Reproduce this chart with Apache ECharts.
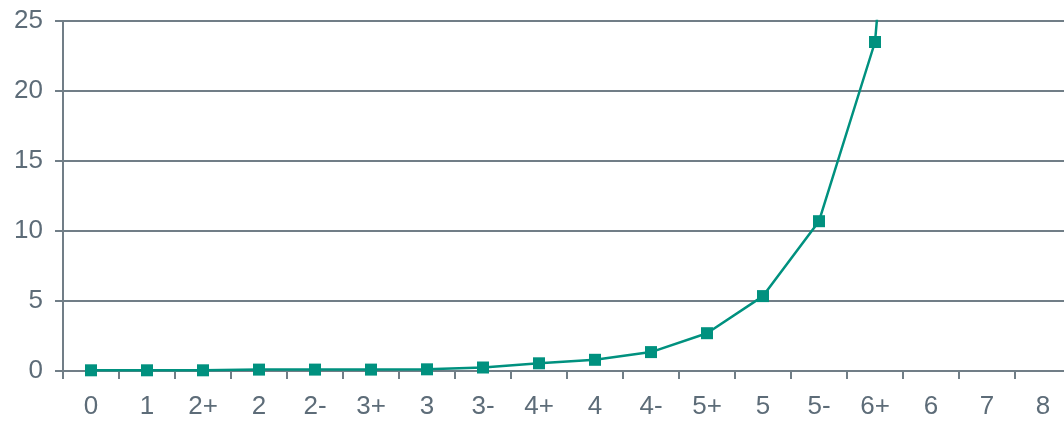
<!DOCTYPE html>
<html>
<head>
<meta charset="utf-8">
<script src="https://cdn.jsdelivr.net/npm/echarts@6/dist/echarts.min.js"></script>
<style>
  html, body { margin: 0; padding: 0; background: #fff; }
  #chart { width: 1064px; height: 422px; }
</style>
</head>
<body>
<div id="chart"></div>
<script>
// grades along the x axis
const grades = ['0', '1', '2+', '2', '2-', '3+', '3', '3-', '4+', '4', '4-', '5+', '5', '5-', '6+', '6', '7', '8'];
// values; "6" runs off the top, 7 and 8 are empty
const values = [0.05, 0.05, 0.05, 0.1, 0.1, 0.1, 0.12, 0.25, 0.55, 0.8, 1.35, 2.7, 5.35, 10.7, 23.5, 70, null, null];
const yTicks = [0, 5, 10, 15, 20, 25];

const C = {
  grid:  '#717e87',
  label: '#5d6c78',
  line:  '#00917f',
  font:  '"Liberation Sans", Arial, sans-serif'
};

const chart = echarts.init(document.getElementById('chart'), null, { renderer: 'canvas' });
chart.setOption({
  animation: false,
  backgroundColor: '#fff',
  // plot runs past the right edge: 18 slots of 56px from x=63
  grid: { left: 63, top: 21, width: 1008, bottom: 51, containLabel: false, outerBoundsMode: 'none' },
  xAxis: {
    type: 'category',
    data: grades,
    boundaryGap: true,
    axisLine: { lineStyle: { color: C.grid, width: 2 } },
    axisTick: { show: true, length: 8, lineStyle: { color: C.grid, width: 2 } },
    axisLabel: { color: C.label, fontFamily: C.font, fontSize: 26, margin: 23, interval: 0 },
    splitLine: { show: false }
  },
  yAxis: {
    type: 'value',
    min: yTicks[0],
    max: yTicks[yTicks.length - 1],
    interval: 5,
    axisLine: { show: true, lineStyle: { color: C.grid, width: 2 } },
    axisTick: { show: true, length: 8, lineStyle: { color: C.grid, width: 2 } },
    axisLabel: { color: C.label, fontFamily: C.font, fontSize: 26, margin: 20 },
    splitLine: { show: true, lineStyle: { color: C.grid, width: 2 } }
  },
  series: [{
    type: 'line',
    data: values,
    clip: true,
    symbol: 'rect',
    symbolSize: 12,
    showAllSymbol: true,
    lineStyle: { color: C.line, width: 2.5 },
    itemStyle: { color: C.line }
  }]
});
</script>
</body>
</html>
